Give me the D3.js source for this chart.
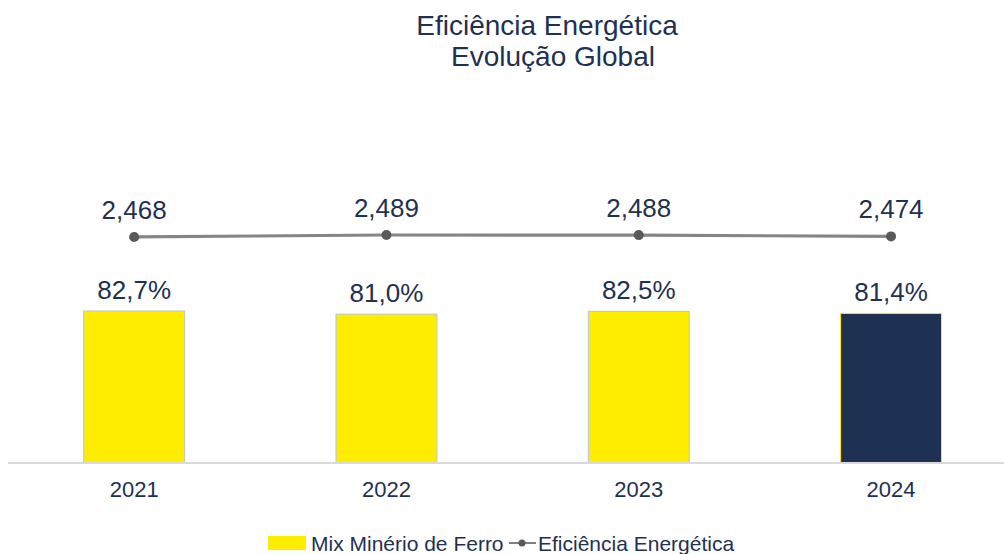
<!DOCTYPE html>
<html>
<head>
<meta charset="utf-8">
<script src="https://cdn.jsdelivr.net/npm/d3@7"></script>
<style>
  body { margin: 0; background: #fff; }
  svg { display: block; font-family: "Liberation Sans", Arial, sans-serif; }
</style>
</head>
<body>
<svg id="chart" width="1004" height="554"></svg>
<script>
const years = ["2021", "2022", "2023", "2024"];
const mixValues = [82.7, 81.0, 82.5, 81.4];
const mixLabels = ["82,7%", "81,0%", "82,5%", "81,4%"];
const efficiencyValues = [2.468, 2.489, 2.488, 2.474];
const efficiencyLabels = ["2,468", "2,489", "2,488", "2,474"];
const barColors = ["#ffed00", "#ffed00", "#ffed00", "#1e3152"];
const barStrokes = ["#b8c4d8", "#b8c4d8", "#b8c4d8", "#ffed00"];

const width = 1004;
const baseY = 463;
const textColor = "#1f3152";

const svg = d3.select("#chart");

const x = d3.scaleBand()
  .domain(years)
  .range([8, 8 + 4 * 252.3])
  .paddingInner(0.6)
  .paddingOuter(0.3);

// bar axis: 82.7% sits about 152px over the baseline
const y = d3.scaleLinear().domain([0, 100]).range([baseY, baseY - 183.8]);
// line axis
const y2 = d3.scaleLinear().domain([0, 5]).range([baseY, baseY - 458]);

// title
svg.append("text")
  .attr("x", 547).attr("y", 35)
  .attr("text-anchor", "middle")
  .attr("font-size", 28)
  .attr("fill", textColor)
  .text("Eficiência Energética");
svg.append("text")
  .attr("x", 553).attr("y", 66)
  .attr("text-anchor", "middle")
  .attr("font-size", 28)
  .attr("fill", textColor)
  .text("Evolução Global");

// bars
svg.selectAll(".bar")
  .data(years)
  .enter()
  .append("rect")
  .attr("class", "bar")
  .attr("x", d => x(d))
  .attr("y", (d, i) => y(mixValues[i]))
  .attr("width", x.bandwidth())
  .attr("height", (d, i) => baseY - y(mixValues[i]))
  .attr("fill", (d, i) => barColors[i])
  .attr("stroke", (d, i) => barStrokes[i])
  .attr("stroke-width", 1);

// baseline
svg.append("line")
  .attr("x1", 8).attr("x2", width)
  .attr("y1", baseY).attr("y2", baseY)
  .attr("stroke", "#d9d9d9")
  .attr("stroke-width", 2);

// x axis labels
const xAxis = svg.append("g")
  .attr("transform", `translate(0,${baseY})`)
  .call(d3.axisBottom(x).tickSize(0).tickPadding(0));
xAxis.select(".domain").remove();
xAxis.selectAll("text")
  .attr("dy", null)
  .attr("y", 34)
  .attr("font-size", 22)
  .attr("font-family", "Liberation Sans, Arial, sans-serif")
  .attr("fill", textColor);

// bar labels
svg.selectAll(".bar-label")
  .data(years)
  .enter()
  .append("text")
  .attr("class", "bar-label")
  .attr("x", d => x(d) + x.bandwidth() / 2)
  .attr("y", (d, i) => y(mixValues[i]) - 12)
  .attr("text-anchor", "middle")
  .attr("font-size", 26)
  .attr("fill", textColor)
  .text((d, i) => mixLabels[i]);

// efficiency line
const line = d3.line()
  .x((d, i) => x(years[i]) + x.bandwidth() / 2)
  .y(d => y2(d));

svg.append("path")
  .datum(efficiencyValues)
  .attr("d", line)
  .attr("fill", "none")
  .attr("stroke", "#858585")
  .attr("stroke-width", 3.2);

svg.selectAll(".dot")
  .data(efficiencyValues)
  .enter()
  .append("circle")
  .attr("class", "dot")
  .attr("cx", (d, i) => x(years[i]) + x.bandwidth() / 2)
  .attr("cy", d => y2(d))
  .attr("r", 5)
  .attr("fill", "#595959");

svg.selectAll(".line-label")
  .data(efficiencyValues)
  .enter()
  .append("text")
  .attr("class", "line-label")
  .attr("x", (d, i) => x(years[i]) + x.bandwidth() / 2)
  .attr("y", d => y2(d) - 18)
  .attr("text-anchor", "middle")
  .attr("font-size", 26)
  .attr("fill", textColor)
  .text((d, i) => efficiencyLabels[i]);

// legend
const legend = svg.append("g").attr("transform", "translate(268,0)");
legend.append("rect")
  .attr("x", 0).attr("y", 536)
  .attr("width", 38).attr("height", 14)
  .attr("fill", "#ffed00");
legend.append("text")
  .attr("x", 43).attr("y", 551)
  .attr("font-size", 21)
  .attr("fill", textColor)
  .text("Mix Minério de Ferro");
legend.append("line")
  .attr("x1", 241).attr("x2", 268)
  .attr("y1", 543).attr("y2", 543)
  .attr("stroke", "#808080")
  .attr("stroke-width", 2);
legend.append("circle")
  .attr("cx", 254).attr("cy", 543)
  .attr("r", 3.5)
  .attr("fill", "#595959");
legend.append("text")
  .attr("x", 270).attr("y", 551)
  .attr("font-size", 21)
  .attr("fill", textColor)
  .text("Eficiência Energética");
</script>
</body>
</html>
